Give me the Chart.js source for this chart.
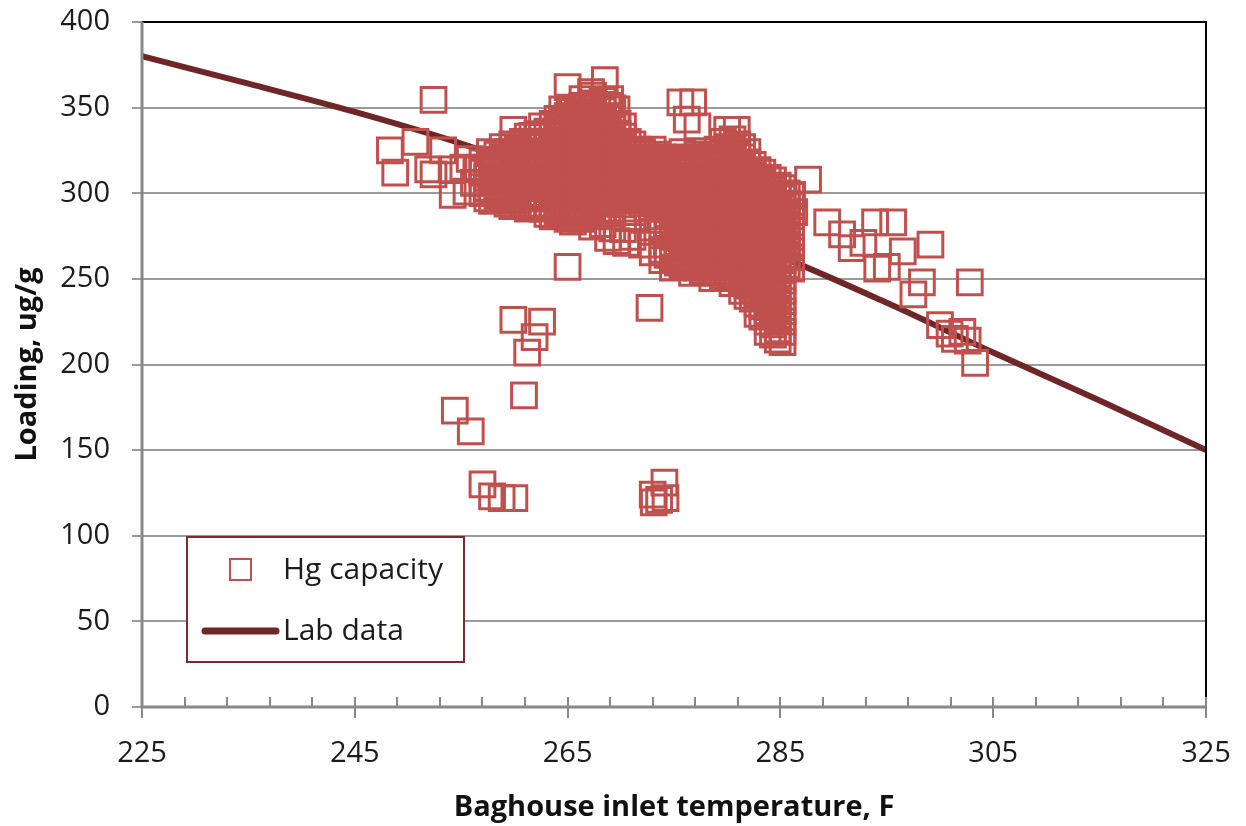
<!DOCTYPE html>
<html lang="en">
<head>
<meta charset="UTF-8">
<title>Hg capacity vs baghouse inlet temperature</title>
<script src="https://cdn.jsdelivr.net/npm/chart.js"></script>
<style>
  body { margin: 0; background: #fff; }
  #wrap { width: 1246px; height: 826px; }
</style>
</head>
<body>
<div id="wrap"><canvas id="chart" width="1246" height="826"></canvas></div>
<script>
// Lab data curve (temperature F, loading ug/g)
const labTemp    = [225, 235, 245, 255, 265, 275, 285, 295, 305, 315, 325];
const labLoading = [380, 364, 347.5, 329, 307, 285, 263, 236, 207, 179, 150];

// Hg capacity, loose points around the main group [temperature F, loading ug/g]
const hgOutliers = [
  [248.3,325],[248.8,312],[250.7,330],[251.9,314],[253.3,325],[252.4,311],[254.1,314],[255.2,315],
  [255.5,301],[254.2,299],[256.6,314],[257.7,324],[252.4,354.5],[259.9,337],[256.2,306],[255.8,320],
  [257.0,313],[257.4,300],
  [265.0,362],[268.5,366],[264.5,349],[266.4,355],[269.0,355],[269.6,349],[275.6,353],[276.8,353],
  [276.2,343],[277.2,339],[280.0,337],[280.9,337],[267.2,359],[264.2,340],[265.2,350],[267.4,357],
  [287.6,308],[286.1,299],[286.3,289],[286.0,256],[289.4,283],[290.8,276],[293.9,283],[295.6,283],
  [292.8,271],[294.1,256],[295.0,257],[296.5,266],[299.1,270],[298.3,248],[297.5,241],[302.8,248],
  [300.0,223],[300.9,218],[302.1,219],[302.6,214],[303.3,201],[301.4,215],[291.7,268],
  [254.4,173],[255.9,161],[257.0,130],[257.9,123],[258.8,122],[260.0,122],
  [259.9,226],[262.6,225],[261.9,216],[261.2,207],[260.9,182],[265.0,257],[272.7,233],
  [273.0,124],[273.1,119.5],[274.1,131],[274.2,122],[273.6,121],
  [268.8,274],[270.5,271],[269.6,272],[271.4,286],[270.6,291]
];

// Hg capacity, dense group: one temperature per column with its loadings
const clusterTemps = [
  257.0, 257.9, 258.9, 259.8, 260.8, 261.7, 262.6, 263.6, 264.5, 265.5, 266.4,
  267.3, 268.3, 269.2, 270.2, 271.1, 272.0, 273.0, 273.9, 274.9, 275.8, 276.7,
  277.7, 278.6, 279.6, 280.5, 281.4, 282.4, 283.3, 284.3, 285.2, 286.0
];
const clusterLoadings = [
  [318, 312, 306, 300],
  [319.5, 313.5, 307.5, 301.5, 295.5],
  [327, 321, 315, 309, 303, 297],
  [328.5, 322.5, 316.5, 310.5, 304.5, 298.5, 292.5],
  [330, 324, 318, 312, 306, 300, 294],
  [333.5, 327.5, 321.5, 315.5, 309.5, 303.5, 297.5, 291.5],
  [339, 333, 327, 321, 315, 309, 303, 297, 291],
  [340.5, 334.5, 328.5, 322.5, 316.5, 310.5, 304.5, 298.5, 292.5, 286.5],
  [342, 336, 330, 324, 318, 312, 306, 300, 294, 288],
  [349.5, 343.5, 337.5, 331.5, 325.5, 319.5, 313.5, 307.5, 301.5, 295.5, 289.5, 283.5],
  [351, 345, 339, 333, 327, 321, 315, 309, 303, 297, 291, 285],
  [352.5, 346.5, 340.5, 334.5, 328.5, 322.5, 316.5, 310.5, 304.5, 298.5, 292.5, 286.5, 280.5],
  [354, 348, 342, 336, 330, 324, 318, 312, 306, 300, 294, 288, 282],
  [349.5, 343.5, 337.5, 331.5, 325.5, 319.5, 313.5, 307.5, 301.5, 295.5, 289.5, 279.5],
  [339, 333, 327, 321, 315, 309, 303, 297, 279],
  [328.5, 322.5, 316.5, 310.5, 304.5, 298.5, 274.5],
  [324, 318, 312, 306, 300, 294, 270],
  [325.5, 319.5, 313.5, 307.5, 301.5, 295.5, 277.5, 265.5],
  [321, 315, 309, 303, 297, 291, 279, 267, 261],
  [316.5, 310.5, 304.5, 298.5, 292.5, 286.5, 280.5, 274.5, 268.5, 262.5, 256.5],
  [324, 318, 312, 306, 300, 294, 288, 282, 276, 270, 264, 258],
  [319.5, 313.5, 307.5, 301.5, 295.5, 289.5, 283.5, 277.5, 271.5, 265.5, 259.5, 253.5],
  [321, 315, 309, 303, 297, 291, 285, 279, 273, 267, 261, 255],
  [322.5, 316.5, 310.5, 304.5, 298.5, 292.5, 286.5, 280.5, 274.5, 268.5, 262.5, 256.5, 250.5],
  [330, 324, 318, 312, 306, 300, 294, 288, 282, 276, 270, 264, 258, 252],
  [331.5, 325.5, 319.5, 313.5, 307.5, 301.5, 295.5, 289.5, 283.5, 277.5, 271.5, 265.5, 259.5, 253.5, 247.5],
  [327, 321, 315, 309, 303, 297, 291, 285, 279, 273, 267, 261, 255, 249, 243],
  [316.5, 310.5, 304.5, 298.5, 292.5, 286.5, 280.5, 274.5, 268.5, 262.5, 256.5, 250.5, 244.5, 238.5],
  [312, 306, 300, 294, 288, 282, 276, 270, 264, 258, 252, 246, 240, 234, 228],
  [307.5, 301.5, 295.5, 289.5, 283.5, 277.5, 271.5, 265.5, 259.5, 253.5, 247.5, 241.5, 235.5, 229.5, 223.5, 217.5],
  [303, 297, 291, 285, 279, 273, 267, 261, 255, 249, 243, 237, 231, 225, 219, 213],
  [298.5, 292.5, 286.5, 280.5, 274.5, 268.5, 262.5, 256.5]
];

// Hg capacity, second run of readings lying between the columns above
const innerTemps = [
  257.45, 258.4, 259.35, 260.3, 261.25, 262.15, 263.1, 264.05, 265.0, 265.95, 266.85,
  267.8, 268.75, 269.7, 270.65, 271.55, 272.5, 273.45, 274.4, 275.35, 276.25, 277.2,
  278.15, 279.1, 280.05, 280.95, 281.9, 282.85, 283.8, 284.75, 285.6
];
const innerLoadings = [
  [315, 309, 303, 297],
  [322.5, 316.5, 310.5, 304.5, 298.5],
  [324, 318, 312, 306, 300, 294],
  [325.5, 319.5, 313.5, 307.5, 301.5, 295.5],
  [333, 327, 321, 315, 309, 303, 297, 291],
  [334.5, 328.5, 322.5, 316.5, 310.5, 304.5, 298.5, 292.5],
  [336, 330, 324, 318, 312, 306, 300, 294, 288],
  [343.5, 337.5, 331.5, 325.5, 319.5, 313.5, 307.5, 301.5, 295.5, 289.5],
  [345, 339, 333, 327, 321, 315, 309, 303, 297, 291, 285],
  [346.5, 340.5, 334.5, 328.5, 322.5, 316.5, 310.5, 304.5, 298.5, 292.5, 286.5],
  [348, 342, 336, 330, 324, 318, 312, 306, 300, 294, 288],
  [349.5, 343.5, 337.5, 331.5, 325.5, 319.5, 313.5, 307.5, 301.5, 295.5, 289.5],
  [351, 345, 339, 333, 327, 321, 315, 309, 303, 297, 291],
  [340.5, 334.5, 328.5, 322.5, 316.5, 310.5, 304.5, 298.5],
  [330, 324, 318, 312, 306, 300],
  [325.5, 319.5, 313.5, 307.5, 301.5, 295.5],
  [321, 315, 309, 303, 297, 291],
  [322.5, 316.5, 310.5, 304.5, 298.5, 292.5, 286.5],
  [318, 312, 306, 300, 294, 288, 282, 276, 270, 264],
  [319.5, 313.5, 307.5, 301.5, 295.5, 289.5, 283.5, 277.5, 271.5, 265.5, 259.5],
  [321, 315, 309, 303, 297, 291, 285, 279, 273, 267, 261],
  [322.5, 316.5, 310.5, 304.5, 298.5, 292.5, 286.5, 280.5, 274.5, 268.5, 262.5, 256.5],
  [318, 312, 306, 300, 294, 288, 282, 276, 270, 264, 258],
  [325.5, 319.5, 313.5, 307.5, 301.5, 295.5, 289.5, 283.5, 277.5, 271.5, 265.5, 259.5, 253.5],
  [327, 321, 315, 309, 303, 297, 291, 285, 279, 273, 267, 261, 255],
  [328.5, 322.5, 316.5, 310.5, 304.5, 298.5, 292.5, 286.5, 280.5, 274.5, 268.5, 262.5, 256.5, 250.5],
  [324, 318, 312, 306, 300, 294, 288, 282, 276, 270, 264, 258, 252, 246, 240],
  [313.5, 307.5, 301.5, 295.5, 289.5, 283.5, 277.5, 271.5, 265.5, 259.5, 253.5, 247.5, 241.5, 235.5, 229.5],
  [309, 303, 297, 291, 285, 279, 273, 267, 261, 255, 249, 243, 237, 231, 225, 219],
  [304.5, 298.5, 292.5, 286.5, 280.5, 274.5, 268.5, 262.5, 256.5, 250.5, 244.5, 238.5, 232.5, 226.5, 220.5, 214.5],
  [300, 294, 288, 282, 276, 270, 264, 258]
];

const xMajorTicks = [225, 245, 265, 285, 305, 325];
const xMinorStep = 4;
const yTicks = [0, 50, 100, 150, 200, 250, 300, 350, 400];

const hgColor = '#C0504D';
const labColor = '#6F2627';
const font = "'Open Sans', sans-serif";

Chart.defaults.font.family = font;
Chart.defaults.color = '#1c1c1c';

const hgPoints = hgOutliers.map(p => ({ x: p[0], y: p[1] }));
clusterTemps.forEach((t, i) => {
  clusterLoadings[i].forEach(v => hgPoints.push({ x: t, y: v }));
});
innerTemps.forEach((t, i) => {
  innerLoadings[i].forEach(v => hgPoints.push({ x: t, y: v }));
});
const labPoints = labTemp.map((t, i) => ({ x: t, y: labLoading[i] }));

// axes frame, x tick marks and the boxed legend
const framePlugin = {
  id: 'frame',
  afterDraw(chart) {
    const { ctx, chartArea: a, scales: { x } } = chart;
    ctx.save();
    ctx.lineCap = 'butt';
    ctx.strokeStyle = '#000';
    ctx.lineWidth = 2;
    ctx.beginPath();
    ctx.moveTo(a.left, a.top);
    ctx.lineTo(a.right, a.top);
    ctx.lineTo(a.right, a.bottom);
    ctx.stroke();

    ctx.strokeStyle = '#888';
    ctx.lineWidth = 3;
    ctx.beginPath();
    ctx.moveTo(a.left, a.top);
    ctx.lineTo(a.left, a.bottom);
    ctx.lineTo(a.right, a.bottom);
    ctx.stroke();

    ctx.lineWidth = 2;
    ctx.beginPath();
    for (let v = xMajorTicks[0]; v <= xMajorTicks[xMajorTicks.length - 1]; v += xMinorStep) {
      const px = Math.round(x.getPixelForValue(v));
      const major = xMajorTicks.includes(v);
      ctx.moveTo(px, a.bottom - 10);
      ctx.lineTo(px, a.bottom + (major ? 11 : 0));
    }
    ctx.stroke();

    // legend
    const lx = 187, ly = 537, lw = 277, lh = 125;
    ctx.fillStyle = '#fff';
    ctx.fillRect(lx, ly, lw, lh);
    ctx.strokeStyle = '#7A2B2B';
    ctx.lineWidth = 2;
    ctx.strokeRect(lx, ly, lw, lh);

    ctx.strokeStyle = hgColor;
    ctx.lineWidth = 2;
    ctx.strokeRect(230, 559, 21, 21);

    ctx.strokeStyle = labColor;
    ctx.lineWidth = 7;
    ctx.lineCap = 'round';
    ctx.beginPath();
    ctx.moveTo(205, 631);
    ctx.lineTo(276, 631);
    ctx.stroke();

    ctx.fillStyle = '#1c1c1c';
    ctx.font = "30px " + font;
    ctx.textBaseline = 'middle';
    ctx.fillText('Hg capacity', 283, 570);
    ctx.fillText('Lab data', 283, 631);
    ctx.restore();
  }
};

new Chart(document.getElementById('chart'), {
  type: 'scatter',
  data: {
    datasets: [
      {
        label: 'Hg capacity',
        data: hgPoints,
        pointStyle: 'rect',
        pointRadius: 17.5,
        pointHoverRadius: 17.5,
        borderColor: hgColor,
        backgroundColor: 'rgba(0,0,0,0)',
        borderWidth: 3,
        order: 0
      },
      {
        type: 'line',
        label: 'Lab data',
        data: labPoints,
        borderColor: labColor,
        borderWidth: 6,
        pointRadius: 0,
        cubicInterpolationMode: 'monotone',
        fill: false,
        order: 1
      }
    ]
  },
  options: {
    responsive: false,
    animation: false,
    layout: { padding: { top: 22, right: 40, bottom: 0, left: 0 } },
    plugins: { legend: { display: false }, tooltip: { enabled: false } },
    scales: {
      x: {
        type: 'linear',
        min: 225,
        max: 325,
        afterBuildTicks: s => { s.ticks = xMajorTicks.map(v => ({ value: v })); },
        afterFit: s => { s.height = 119; s.paddingLeft = 0; s.paddingRight = 0; },
        grid: { display: false, drawTicks: false },
        border: { display: false },
        ticks: { font: { size: 29 }, padding: 29, maxRotation: 0 },
        title: {
          display: true,
          text: 'Baghouse inlet temperature, F',
          font: { size: 29, weight: 'bold' },
          color: '#111',
          padding: { top: 0, bottom: 1 }
        }
      },
      y: {
        min: 0,
        max: 400,
        afterBuildTicks: s => { s.ticks = yTicks.map(v => ({ value: v })); },
        afterFit: s => { s.width = 142; s.paddingTop = 0; s.paddingBottom = 0; },
        grid: { color: '#9a9a9a', lineWidth: 2, tickLength: 10 },
        border: { display: false },
        ticks: { font: { size: 29 }, padding: 22 },
        title: {
          display: true,
          text: 'Loading, ug/g',
          font: { size: 29, weight: 'bold' },
          color: '#111',
          padding: { top: 10, bottom: 0 }
        }
      }
    }
  },
  plugins: [framePlugin]
});
</script>
</body>
</html>
